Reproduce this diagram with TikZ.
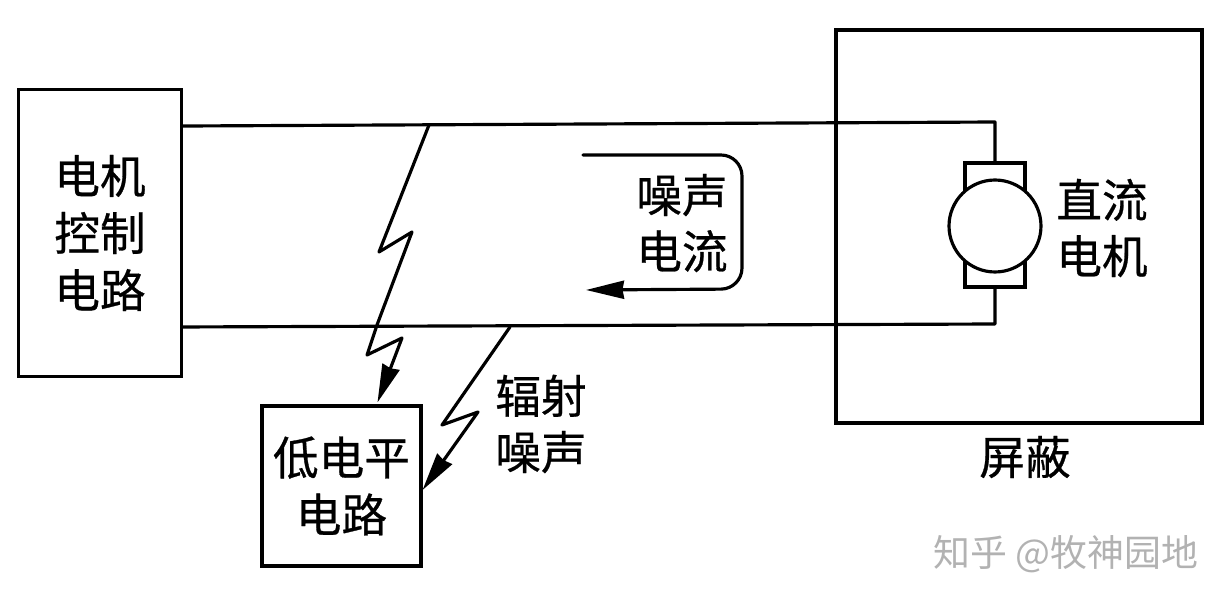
\documentclass[tikz,border=0pt]{standalone}
\usepackage{fontspec}
\setmainfont[FakeBold=0.6]{Noto Sans CJK SC}
\newfontfamily\markfont{Noto Sans CJK SC}
\usetikzlibrary{arrows.meta}
\tikzset{
  wire/.style={line width=1.8pt,line join=round,line cap=round},
  boxnode/.style={draw,line width=1.8pt,rectangle,align=center,inner sep=0pt,font=\fontsize{26}{32.5}\selectfont},
  lbl/.style={align=center,inner sep=0pt,font=\fontsize{26}{32}\selectfont},
  tip/.style={-{Stealth[length=.76cm,width=.36cm,inset=.03cm]}},
}
\begin{document}
\begin{tikzpicture}[x=0.02cm,y=-0.02cm]
\useasboundingbox (0,0) rectangle (1228,604);
\node[boxnode,minimum width=3.26cm,minimum height=5.74cm] (ctrl) at (100,233) {电机\\控制\\电路};
\node[boxnode,minimum width=3.18cm,minimum height=3.2cm] (low) at (341.5,486) {低电平\\电路};
\node[boxnode,minimum width=7.32cm,minimum height=7.86cm] (shield) at (1019,226.5) {};
\node[boxnode,minimum width=1.2cm,minimum height=2.48cm] (brush) at (995,225) {};
\node[draw,circle,fill=white,line width=1.8pt,minimum size=1.84cm,inner sep=0pt] (motor) at (995,226) {};
% wires
\coordinate (tr) at (995,122);
\coordinate (br) at (995,324);
\draw[wire] ([yshift=2.14cm]ctrl.east) -- (tr) -- (brush.north);
\draw[wire] ([yshift=-1.88cm]ctrl.east) -- (br) -- (brush.south);
% radiated noise bolts
\coordinate (s1) at (429,125);
\coordinate (s2) at (510,327);
\draw[wire,tip] (s1) -- (379,252) -- (412,232) -- (377,325) -- (367,355) -- (402,338) -- ([xshift=.72cm,yshift=.04cm]low.north);
\draw[wire,tip] (s2) -- (442,425) -- (478,412) -- ([yshift=-.08cm]low.east);
% noise current loop
\coordinate (n1) at (583,155);
\coordinate (n2) at (586,290);
\draw[wire,rounded corners=.42cm,tip] (n1) -- (742,155) -- (742,289) -- (n2);
% labels
\node[lbl] (noise) at (682,223) {噪声\\电流};
\node[lbl] (motorlabel) at (1102,228) {直流\\电机};
\node[lbl] (rad) at (541,424) {辐射\\噪声};
\node[lbl] (shieldlabel) at (1025,457) {屏蔽};
\node[inner sep=0pt,text=black!30,font=\markfont\fontsize{21}{24}\selectfont] (mark) at (1066,554) {知乎 @牧神园地};
\end{tikzpicture}
\end{document}
